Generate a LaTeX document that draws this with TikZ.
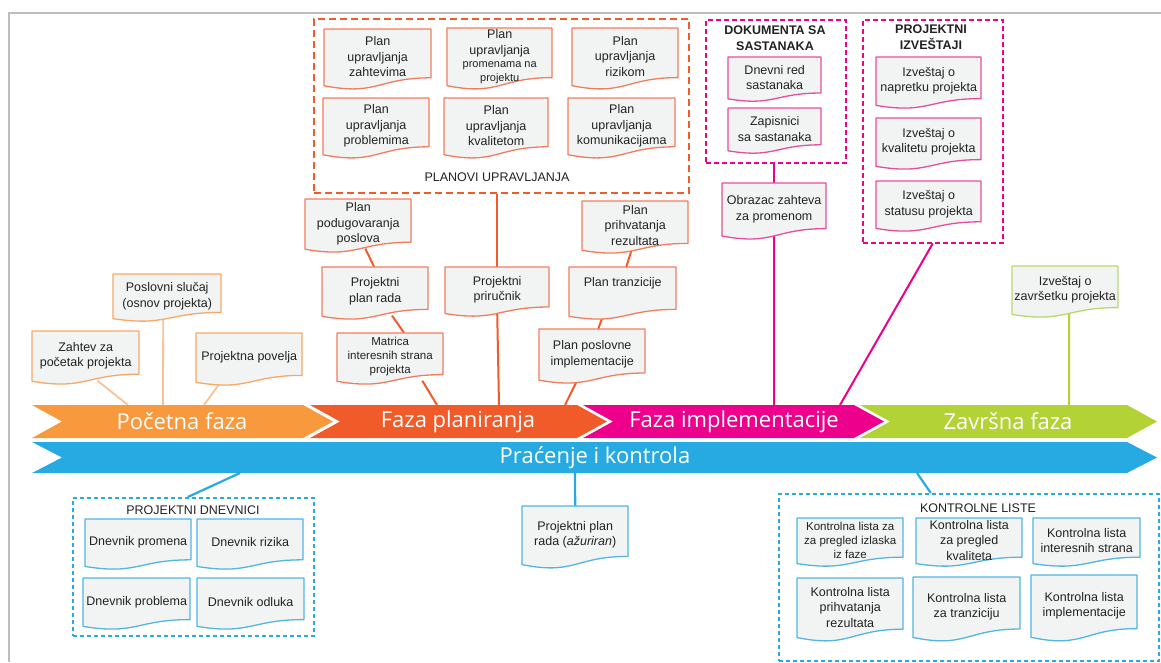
\documentclass[tikz,border=0pt]{standalone}
\usepackage{fontspec}
\setmainfont{Liberation Sans}
\newfontfamily\phasefont{Open Sans}
\usetikzlibrary{calc}
\pgfdeclarelayer{background}
\pgfsetlayers{background,main}
\definecolor{cOrg}{HTML}{F7993C}
\definecolor{cOrgDoc}{HTML}{F8A866}
\definecolor{cOrgLine}{HTML}{F9C195}
\definecolor{cRed}{HTML}{F15A29}
\definecolor{cRedDoc}{HTML}{F27C5C}
\definecolor{cPink}{HTML}{EC008C}
\definecolor{cPinkDoc}{HTML}{E94C9E}
\definecolor{cGreen}{HTML}{B2D235}
\definecolor{cGreenDoc}{HTML}{B9D86F}
\definecolor{cBlue}{HTML}{27AAE1}
\definecolor{cBlueDoc}{HTML}{52B5E4}
\definecolor{docfill}{HTML}{F2F3F3}
\definecolor{frameGray}{HTML}{BDBDBD}
\definecolor{txt}{HTML}{222222}
\newcommand{\sm}{\fontsize{11}{13}\selectfont}
\tikzset{
  doctext/.style={inner sep=0pt, align=center, text=txt, font=\fontsize{12.5}{15.5}\selectfont},
  boxtitle/.style={inner sep=0pt, align=center, text=txt, font=\fontsize{12.5}{15.5}\selectfont},
  phase/.style={inner sep=0pt, text=white, font=\phasefont\fontsize{22}{24}\selectfont},
  groupbox/.style={inner sep=0pt, anchor=north west, fill=none},
  redbox/.style={groupbox, draw=cRed, line width=2.2pt, dash pattern=on 7pt off 4pt},
  pinkbox/.style={groupbox, draw=cPink, line width=1.5pt, dash pattern=on 5pt off 3pt},
  bluebox/.style={groupbox, draw=cBlue, line width=1.6pt, dash pattern=on 4pt off 3pt},
  conO/.style={draw=cOrgLine, line width=1.8pt},
  conR/.style={draw=cRed, line width=2pt},
  conP/.style={draw=cPink, line width=2pt},
  conG/.style={draw=cGreen, line width=2pt},
  conB/.style={draw=cBlue, line width=2.2pt},
}
% #1 opts, #2 name, #3 x1, #4 y1, #5 x2, #6 y2, #7 colour, #8 text
\newcommand{\docbox}[8][]{%
  \filldraw[fill=docfill, draw=#7, line width=1.3pt, line join=round]
    (#3,#4) -- (#5,#4) -- (#5,{#4+0.8*(#6-#4)})
    .. controls ({(#3+#5)/2},{#4+0.8*(#6-#4)}) and ({(#3+#5)/2},{#4+1.1*(#6-#4)}) ..
    (#3,{#4+0.93*(#6-#4)}) -- cycle;
  \node[doctext, minimum width={#5-#3}, minimum height={0.91*(#6-#4)}, anchor=north west, #1] (#2) at (#3,#4) {#8};
}
\begin{document}
\begin{tikzpicture}[x=1pt, y=-1pt]
\useasboundingbox (0,0) rectangle (1161,662);
% frame
\draw[frameGray, line width=2.5pt] (1161,13) -- (9,13) -- (9,662);

% ---------- phase bands ----------
\fill[cOrg] (32,405) -- (303,405) -- (333,421.5) -- (303,438) -- (32,438) -- (62,421.5) -- cycle;
\fill[cRed] (310,405) -- (577,405) -- (607,421.5) -- (577,438) -- (310,438) -- (340,421.5) -- cycle;
\fill[cPink] (583,405) -- (854,405) -- (884,421.5) -- (854,438) -- (583,438) -- (613,421.5) -- cycle;
\fill[cGreen] (860,405) -- (1127,405) -- (1157,421.5) -- (1127,438) -- (860,438) -- (890,421.5) -- cycle;
\fill[cBlue] (32,442) -- (1127,442) -- (1157,457.5) -- (1127,473) -- (32,473) -- (62,457.5) -- cycle;
\node[phase] (ph1) at (182,421.5) {Početna faza};
\node[phase] (ph2) at (458,421.5) {Faza planiranja};
\node[phase] (ph3) at (734,421.5) {Faza implementacije};
\node[phase] (ph4) at (1008,421.5) {Završna faza};
\node[phase] (ph5) at (595,457.5) {Praćenje i kontrola};

% band attachment points
\coordinate (bz) at (128,405);
\coordinate (bp) at (163,405);
\coordinate (bv) at (204,405);
\coordinate (bm) at (437,405);
\coordinate (bpr) at (499,405);
\coordinate (bim) at (565,405);
\coordinate (bob) at (774,405);
\coordinate (biz) at (840,405);
\coordinate (bzv) at (1069,405);
\coordinate (bdn) at (240,473);
\coordinate (baz) at (575,473);
\coordinate (bkl) at (917,473);

% ---------- initiation ----------
\docbox{poslovni}{113}{274}{221}{322}{cOrgDoc}{Poslovni slučaj\\(osnov projekta)}
\docbox{zahtev}{32}{331}{139}{385}{cOrgDoc}{Zahtev za\\početak projekta}
\docbox{povelja}{196}{333}{302}{386}{cOrgDoc}{Projektna povelja}

% ---------- planning ----------
\node[redbox, minimum width=375, minimum height=174] (planovi) at (313,18) {};
\node[boxtitle] (planovitit) at (497,177) {PLANOVI UPRAVLJANJA};
\docbox{pa}{324}{29}{431}{90}{cRedDoc}{Plan\\upravljanja\\zahtevima}
\docbox{pb}{447}{28}{552}{90}{cRedDoc}{Plan\\upravljanja\\[-2pt]{\sm promenama na}\\[-2pt]{\sm projektu}}
\docbox{pc}{572}{28}{678}{90}{cRedDoc}{Plan\\upravljanja\\rizikom}
\docbox{pd}{323}{98}{429}{159}{cRedDoc}{Plan\\upravljanja\\problemima}
\docbox{pe}{444}{98}{548}{159}{cRedDoc}{Plan\\upravljanja\\kvalitetom}
\docbox{pf}{568}{98}{675}{159}{cRedDoc}{Plan\\upravljanja\\komunikacijama}

\docbox{pod}{305}{199}{411}{253}{cRedDoc}{Plan\\podugovaranja\\poslova}
\docbox{planrada}{322}{267}{428}{320}{cRedDoc}{Projektni\\plan rada}
\docbox[font=\fontsize{11.5}{14}\selectfont]{matrica}{337}{333}{443}{385}{cRedDoc}{Matrica\\interesnih strana\\projekta}
\docbox{prirucnik}{445}{267}{549}{317}{cRedDoc}{Projektni\\priručnik}
\docbox{prihvat}{582}{201}{688}{254}{cRedDoc}{Plan\\prihvatanja\\rezultata}
\docbox[minimum height=32]{tranz}{569}{267}{676}{320}{cRedDoc}{Plan tranzicije}
\docbox{impl}{539}{329}{645}{384}{cRedDoc}{Plan poslovne\\implementacije}

% ---------- implementation ----------
\node[pinkbox, minimum width=140, minimum height=143] (dokumenta) at (705,19) {};
\node[boxtitle, font=\bfseries\fontsize{12.5}{16}\selectfont] (dokumentatit) at (775,38) {DOKUMENTA SA\\SASTANAKA};
\docbox{dnevnired}{728}{57}{821}{102}{cPinkDoc}{Dnevni red\\sastanaka}
\docbox{zapisnici}{728}{108}{821}{154}{cPinkDoc}{Zapisnici\\sa sastanaka}
\docbox{obrazac}{722}{183}{826}{240}{cPinkDoc}{Obrazac zahteva\\za promenom}

\node[pinkbox, minimum width=140, minimum height=223] (izvestaji) at (862,19) {};
\node[boxtitle, font=\bfseries\fontsize{12.5}{16}\selectfont] (izvestajitit) at (931,37) {PROJEKTNI\\IZVEŠTAJI};
\docbox{napretku}{876}{57}{981}{109}{cPinkDoc}{Izveštaj o\\napretku projekta}
\docbox{kvalitetu}{876}{118}{981}{170}{cPinkDoc}{Izveštaj o\\kvalitetu projekta}
\docbox{statusu}{876}{181}{981}{232}{cPinkDoc}{Izveštaj o\\statusu projekta}

% ---------- closing ----------
\docbox{zavrsetku}{1012}{266}{1118}{318}{cGreenDoc}{Izveštaj o\\završetku projekta}

% ---------- monitoring ----------
\node[bluebox, minimum width=241, minimum height=138] (dnevnici) at (72,497) {};
\node[boxtitle] (dnevnicitit) at (193,510) {PROJEKTNI DNEVNICI};
\docbox{dpromena}{85}{519}{191}{570}{cBlueDoc}{Dnevnik promena}
\docbox{drizika}{197}{519}{303}{570}{cBlueDoc}{Dnevnik rizika}
\docbox{dproblema}{83}{578}{190}{630}{cBlueDoc}{Dnevnik problema}
\docbox{dodluka}{197}{578}{304}{630}{cBlueDoc}{Dnevnik odluka}

\docbox{azuriran}{522}{506}{628}{569}{cBlueDoc}{Projektni plan\\rada (\textit{ažuriran})}

\node[bluebox, minimum width=380, minimum height=167] (kontrolne) at (778,493) {};
\node[boxtitle] (kontrolnetit) at (978,508) {KONTROLNE LISTE};
\docbox[font=\fontsize{11.5}{14}\selectfont]{k1}{797}{518}{903}{567}{cBlueDoc}{Kontrolna lista za\\za pregled izlaska\\iz faze}
\docbox{k2}{916}{518}{1022}{567}{cBlueDoc}{Kontrolna lista\\za pregled\\kvaliteta}
\docbox{k3}{1033}{518}{1140}{567}{cBlueDoc}{Kontrolna lista\\interesnih strana}
\docbox{k4}{797}{578}{903}{642}{cBlueDoc}{Kontrolna lista\\prihvatanja\\rezultata}
\docbox{k5}{913}{577}{1020}{642}{cBlueDoc}{Kontrolna lista\\za tranziciju}
\docbox{k6}{1031}{575}{1137}{642}{cBlueDoc}{Kontrolna lista\\implementacije}

% ---------- connectors ----------
\begin{pgfonlayer}{background}
\draw[conO] ([xshift=11.6pt]zahtev.south) -- (bz);
\draw[conO] ([xshift=-4pt]poslovni.south) -- (bp);
\draw[conO] ([xshift=-28.2pt]povelja.south) -- (bv);

\draw[conR] ([xshift=7.1pt]pod.south) -- ([xshift=-1pt]planrada.north);
\draw[conR] ([xshift=16.8pt]planrada.south) -- ([xshift=14pt]matrica.north);
\draw[conR] ([xshift=32.1pt]matrica.south) -- (bm);
\draw[conR] (prirucnik.north) -- (prirucnik.north |- planovi.south);
\draw[conR] (prirucnik.south) -- (bpr);
\draw[conR] ([xshift=-3.5pt]prihvat.south) -- ([xshift=3.5pt]tranz.north);
\draw[conR] ([xshift=-13.7pt]tranz.south) -- ([xshift=6pt]impl.north);
\draw[conR] ([xshift=-14.5pt]impl.south) -- (bim);

\draw[conP] (obrazac.north) -- (obrazac.north |- dokumenta.south);
\draw[conP] (obrazac.south) -- (bob);
\draw[conP] (izvestaji.south) -- (biz);

\draw[conG] ([xshift=4pt]zavrsetku.south) -- (bzv);

\draw[conB] ([xshift=-5.5pt]dnevnici.north) -- (bdn);
\draw[conB] (azuriran.north) -- (baz);
\draw[conB] ([xshift=-38pt]kontrolne.north) -- (bkl);
\end{pgfonlayer}
\end{tikzpicture}
\end{document}
